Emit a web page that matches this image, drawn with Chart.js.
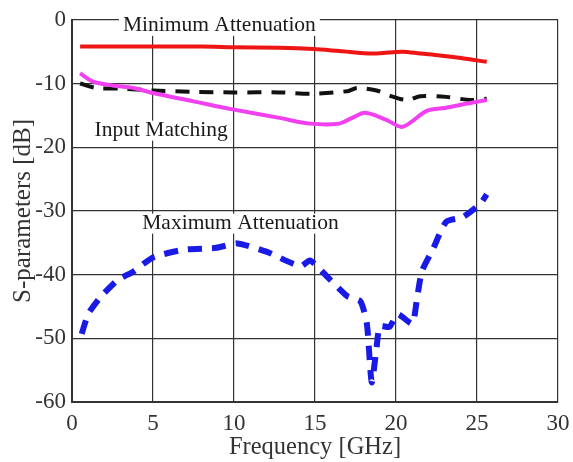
<!DOCTYPE html>
<html><head><meta charset="utf-8">
<script src="https://cdn.jsdelivr.net/npm/chart.js@4"></script>
<style>html,body{margin:0;padding:0;background:#fff}#wrap{width:573px;height:462px}</style>
</head><body><div id="wrap"><canvas id="c" width="573" height="462"></canvas></div>
<script>
const xTicks = [0, 5, 10, 15, 20, 25, 30];
const yTicks = [0, -10, -20, -30, -40, -50, -60];

const minAttF = [0.5, 2, 5, 8, 10, 12.8, 14.9, 16.5, 18.6, 20.4, 21.5, 22.7, 24, 25.6];
const minAttV = [-4.2, -4.2, -4.2, -4.2, -4.3, -4.4, -4.6, -4.9, -5.3, -5.0, -5.3, -5.6, -6.0, -6.6];

const inMatchF = [0.5, 1.3, 2.5, 3.8, 5, 7.5, 10, 12.8, 14.7, 16.5, 17.3, 18.1, 19.4, 20.4, 21.9, 23.1, 24.5, 25.6];
const inMatchV = [-8.4, -9.7, -10.3, -10.7, -11.5, -12.8, -14.1, -15.4, -16.3, -16.3, -15.4, -14.6, -15.7, -16.8, -14.3, -13.8, -13.1, -12.6];

const s11F = [0.5, 1.5, 3, 5, 7.5, 10, 12.8, 14.9, 17, 17.6, 18.8, 19.6, 20.7, 21.5, 23.1, 24.6, 25.6];
const s11V = [-10.0, -10.7, -10.8, -11.1, -11.3, -11.4, -11.4, -11.6, -11.2, -10.7, -11.1, -11.9, -12.6, -12.0, -12.1, -12.6, -12.4];

const maxAttF = [0.6, 1.0, 1.7, 2.8, 3.8, 5.0, 6.9, 8.9, 10.2, 12.0, 14.1, 14.7, 15.9, 17.0, 17.8, 18.2, 18.5, 18.8, 19.0, 19.6, 20.1, 21.0, 21.3, 21.6, 22.3, 23.1, 24.1, 25.2, 25.6];
const maxAttV = [-49.3, -46.2, -43.7, -40.9, -39.5, -37.3, -36.1, -35.8, -35.1, -36.4, -38.7, -37.8, -40.7, -43.4, -44.2, -47.7, -56.9, -51.5, -48.1, -48.2, -46.2, -47.7, -43.7, -39.5, -35.9, -31.7, -31.0, -28.9, -27.4];

const labels = [
  {text: 'Minimum Attenuation', x: 9.1, y: -0.95},
  {text: 'Input Matching', x: 5.5, y: -17.4},
  {text: 'Maximum Attenuation', x: 10.4, y: -32.0}
];

const pts = (xs, ys) => xs.map((x, i) => ({x: x, y: ys[i]}));
const FONT = "'Liberation Serif', 'Times New Roman', serif";

const textPlugin = {
  id: 'texts',
  beforeDatasetsDraw(chart) {
    const ctx = chart.ctx, xs = chart.scales.x, ys = chart.scales.y;
    ctx.save();
    ctx.font = '21.5px ' + FONT;
    ctx.textAlign = 'center';
    ctx.textBaseline = 'middle';
    labels.forEach(l => {
      const px = xs.getPixelForValue(l.x), py = ys.getPixelForValue(l.y);
      const w = ctx.measureText(l.text).width;
      ctx.fillStyle = '#fff';
      ctx.fillRect(px - w / 2 - 4, py - 10, w + 8, 20);
      ctx.fillStyle = '#1a1a1a';
      ctx.fillText(l.text, px, py);
    });
    ctx.restore();
  }
};

new Chart(document.getElementById('c'), {
  type: 'scatter',
  data: {
    datasets: [
      {data: pts(minAttF, minAttV), borderColor: '#ee1515', borderWidth: 4, tension: 0.3},
      {data: pts(inMatchF, inMatchV), borderColor: '#f040f0', borderWidth: 4, tension: 0.3},
      {data: pts(s11F, s11V), borderColor: '#111', borderWidth: 4, borderDash: [14, 10], tension: 0.3},
      {data: pts(maxAttF, maxAttV), borderColor: '#1a1ae6', borderWidth: 6, borderDash: [14, 10], tension: 0.2}
    ].map(d => Object.assign(d, {showLine: true, pointRadius: 0, fill: false}))
  },
  options: {
    responsive: false,
    animation: false,
    layout: {padding: {left: 0, right: 0, top: 16, bottom: 0}},
    plugins: {legend: {display: false}, tooltip: {enabled: false}},
    scales: {
      x: {
        type: 'linear', min: 0, max: 30,
        afterBuildTicks: s => { s.ticks = xTicks.map(v => ({value: v})); },
        afterFit: s => { s.height = 60; s.paddingRight = 15; },
        ticks: {color: '#333', font: {family: FONT, size: 23}, padding: 8, maxRotation: 0},
        grid: {color: '#333', lineWidth: 1.2, drawTicks: false},
        border: {color: '#333', width: 2},
        title: {display: true, text: 'Frequency [GHz]', color: '#333', font: {family: FONT, size: 24.5}, padding: {top: 2, bottom: 0}}
      },
      y: {
        type: 'linear', min: -60, max: 0,
        afterBuildTicks: s => { s.ticks = yTicks.map(v => ({value: v})); },
        afterFit: s => { s.width = 72; },
        ticks: {color: '#333', font: {family: FONT, size: 23}, padding: 6},
        grid: {color: '#333', lineWidth: 1.2, drawTicks: false},
        border: {color: '#333', width: 2},
        title: {display: true, text: 'S-parameters [dB]', color: '#333', font: {family: FONT, size: 25}, padding: {top: 8, bottom: 0}}
      }
    }
  },
  plugins: [textPlugin]
});
</script>
</body></html>
